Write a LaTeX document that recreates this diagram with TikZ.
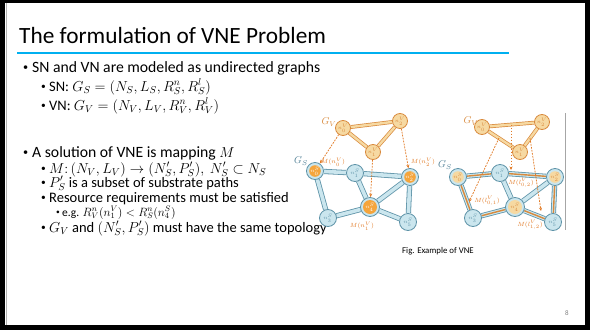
\documentclass[tikz,border=0pt]{standalone}
\usepackage{fontspec}
\setmainfont{Carlito}
\usetikzlibrary{arrows.meta,backgrounds}
\definecolor{titleblue}{HTML}{00B0F0}
\definecolor{vfill}{HTML}{F6D9A2}
\definecolor{vdraw}{HTML}{D98A3D}
\definecolor{sfill}{HTML}{CBE6EE}
\definecolor{sdraw}{HTML}{5E93A8}
\definecolor{ocore}{HTML}{F5A53C}
\definecolor{arrowc}{HTML}{E27A25}
\definecolor{gslab}{HTML}{4F7F95}
\newcommand{\bul}[1]{\makebox[#1][l]{\raisebox{0.12em}{\scalebox{0.65}{•}}}}
\begin{document}
\begin{tikzpicture}[x=1pt,y=-1pt,
 bodyA/.style={anchor=base west, inner sep=0, font=\fontsize{15.7}{18}\selectfont},
 bodyB/.style={anchor=base west, inner sep=0, font=\fontsize{14.5}{16}\selectfont},
 bodyC/.style={anchor=base west, inner sep=0, font=\fontsize{11.5}{13}\selectfont},
 vnode/.style={circle, fill=vfill, draw=vdraw, line width=0.8pt, minimum size=15pt, inner sep=0, font=\fontsize{4.5}{4.5}\selectfont, text=vdraw},
 snode/.style={circle, fill=sfill, draw=sdraw, line width=0.8pt, minimum size=17pt, inner sep=0, font=\fontsize{4.5}{4.5}\selectfont, text=sdraw},
 core/.style={path picture={\fill[#1] (path picture bounding box.center) circle (5.8pt);}},
 bigcore/.style={path picture={\fill[#1] (path picture bounding box.center) circle (7pt);}},
 vedge/.style={draw=vdraw, line width=0.7pt, double=vfill, double distance=2.4pt},
 sedge/.style={draw=sdraw, line width=0.8pt, double=sfill, double distance=3.6pt},
 opath/.style={draw=vdraw, line width=1.4pt},
 marrow/.style={draw=arrowc, line width=0.75pt, dash pattern=on 1.8pt off 1.2pt, -{Stealth[length=3.5pt,width=3pt]}},
 mlab/.style={font=\fontsize{6}{6}\selectfont, text=arrowc, inner sep=0},
 glab/.style={font=\fontsize{10}{10}\selectfont, inner sep=0},
]
\begin{pgfonlayer}{background}
\fill[black] (0,0) rectangle (590,330);
\fill[white] (5,3) rectangle (585,325);
\draw[gray!60, line width=0.6pt] (6,3) -- (6,325);
\end{pgfonlayer}
\useasboundingbox (0,0) rectangle (590,330);

% title
\node[anchor=base west, inner sep=0, font=\fontsize{23.3}{28}\selectfont] (title) at (19,43) {The formulation of VNE Problem};
\draw[titleblue, line width=2pt] (17,52.5) -- (509,52.5);

% text
\node[bodyA] (t1) at (23,72) {\bul{9pt}SN and VN are modeled as undirected graphs};
\node[bodyB] (t2) at (41,91) {\bul{8pt}SN: $G_S = \bigl(N_S, L_S, R_S^n, R_S^l\bigr)$};
\node[bodyB] (t3) at (41,110) {\bul{8pt}VN: $G_V = \bigl(N_V, L_V, R_V^n, R_V^l\bigr)$};
\node[bodyA] (t4) at (23,157) {\bul{9pt}A solution of VNE is mapping $M$};
\node[bodyB] (t5) at (41,173) {\bul{8pt}$M\colon (N_V,L_V)\rightarrow(N_S',P_S'),\ N_S'\subset N_S$};
\node[bodyB] (t6) at (41,187) {\bul{8pt}$P_S'$ is a subset of substrate paths};
\node[bodyB] (t7) at (41,202) {\bul{8pt}Resource requirements must be satisfied};
\node[bodyC] (t8) at (56,216) {\bul{6pt}e.g. $R_V^n(n_1^V) < R_S^n(n_4^S)$};
\node[bodyB] (t9) at (41,232) {\bul{8pt}$G_V$ and $(N_S',P_S')$ must have the same topology};

% ---------- left figure ----------
\node[vnode] (lv0) at (343,128) {$n_0^V$};
\node[vnode] (lv2) at (400,121) {$n_2^V$};
\node[vnode] (lv1) at (373,152) {$n_1^V$};
\node[snode,core=ocore,text=white] (ls0) at (315,171) {$n_0^S$};
\node[snode] (ls1) at (355,173) {$n_1^S$};
\node[snode,core=ocore,text=white] (ls2) at (410,177) {$n_2^S$};
\node[snode,bigcore=ocore,text=white,minimum size=19pt] (ls4) at (370,207) {$n_4^S$};
\node[snode] (ls3) at (328,218) {$n_3^S$};
\node[snode] (ls5) at (408,222) {$n_5^S$};
\node[glab,text=vdraw] (lgv) at (329,122) {$G_V$};
\node[glab,text=gslab] (lgs) at (301,161) {$G_S$};
\begin{pgfonlayer}{background}
\draw[vedge] (lv0) -- (lv2);
\draw[vedge] (lv2) -- (lv1);
\draw[vedge] (lv0) -- (lv1);
\draw[sedge] (ls0) -- (ls1);
\draw[sedge] (ls1) -- (ls2);
\draw[sedge] (ls0) -- (ls3);
\draw[sedge] (ls1) -- (ls4);
\draw[sedge] (ls2) -- (ls4);
\draw[sedge] (ls3) -- (ls4);
\draw[sedge] (ls4) -- (ls5);
\draw[sedge] (ls2) -- (ls5);
\end{pgfonlayer}
\draw[marrow] (lv0) -- (ls0);
\draw[marrow] (lv1) -- (ls4);
\draw[marrow] (lv2) -- (ls2);
\node[mlab] (lm0) at (333,162) {$M(n_0^V)$};
\node[mlab] (lm2) at (423,162) {$M(n_2^V)$};
\node[mlab] (lm1) at (362,226) {$M(n_1^V)$};
\node[anchor=base west, inner sep=0, font=\fontsize{8.8}{9}\selectfont] (cap) at (402,253) {Fig. Example of VNE};

% ---------- right figure ----------
\node[vnode] (rv0) at (482,127) {$n_0^V$};
\node[vnode] (rv2) at (542,122) {$n_2^V$};
\node[vnode] (rv1) at (520,152) {$n_1^V$};
\node[snode,core=vfill,text=vdraw] (rs0) at (458,177) {$n_0^S$};
\node[snode] (rs1) at (500,173) {$n_1^S$};
\node[snode,core=vfill,text=vdraw] (rs2) at (555,177) {$n_2^S$};
\node[snode,bigcore=vfill,text=vdraw,minimum size=19pt] (rs4) at (515,207) {$n_4^S$};
\node[snode] (rs3) at (473,218) {$n_3^S$};
\node[snode] (rs5) at (553,222) {$n_5^S$};
\node[glab,text=vdraw] (rgv) at (471,121) {$G_V$};
\node[glab,text=gslab] (rgs) at (445,165) {$G_S$};
\begin{pgfonlayer}{background}
\draw[vedge] (rv0) -- (rv2);
\draw[vedge] (rv2) -- (rv1);
\draw[vedge] (rv0) -- (rv1);
\draw[sedge] (rs0) -- (rs1);
\draw[sedge] (rs1) -- (rs2);
\draw[sedge] (rs0) -- (rs3);
\draw[sedge] (rs1) -- (rs4);
\draw[sedge] (rs2) -- (rs4);
\draw[sedge] (rs3) -- (rs4);
\draw[sedge] (rs4) -- (rs5);
\draw[sedge] (rs2) -- (rs5);
\draw[opath] (rs0) -- (rs1) -- (rs2);
\draw[opath] (rs0) -- (rs3) -- (rs4);
\draw[opath] (rs4) -- (rs5) -- (rs2);
\end{pgfonlayer}
\coordinate (a02s) at (511,124.5);
\coordinate (a02e) at (511,170);
\coordinate (a01s) at (499,138);
\coordinate (a01e) at (469,202);
\coordinate (a12s) at (530,138);
\coordinate (a12e) at (541,211);
\draw[marrow] (a02s) -- (a02e);
\draw[marrow] (a01s) -- (a01e);
\draw[marrow] (a12s) -- (a12e);
\node[mlab] (rm02) at (521,183) {$M(l_{0,2}^V)$};
\node[mlab] (rm01) at (487,201) {$M(l_{0,1}^V)$};
\node[mlab] (rm12) at (530,225) {$M(l_{1,2}^V)$};
\draw[gray!70, line width=0.6pt] (565,113) -- (565,230);

% page number
\node[font=\fontsize{7}{7}\selectfont, text=gray, inner sep=0] (pg) at (567,313) {8};
\end{tikzpicture}
\end{document}
